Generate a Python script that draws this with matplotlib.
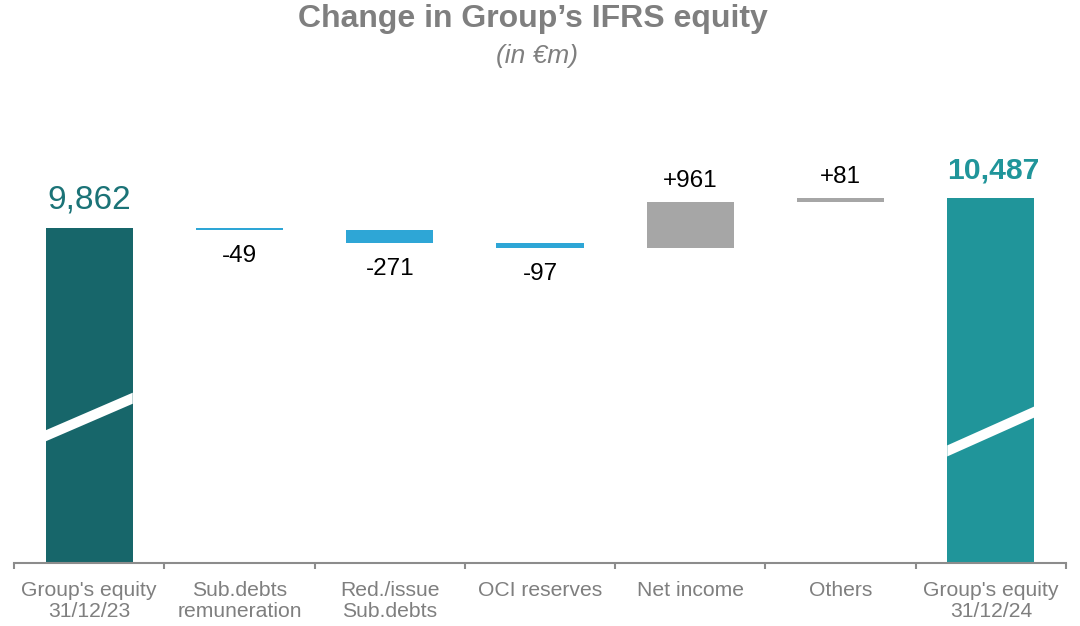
import numpy as np
import matplotlib
matplotlib.use("Agg")
import matplotlib.pyplot as plt
from matplotlib.patches import Polygon
import matplotlib.transforms as mtransforms

plt.rcParams['font.family'] = ['Liberation Sans', 'DejaVu Sans']

# data (in EUR m)
categories = ["Group's equity\n31/12/23", "Sub.debts\nremuneration", "Red./issue\nSub.debts",
              "OCI reserves", "Net income", "Others", "Group's equity\n31/12/24"]
start_equity = 9862
changes = [-49, -271, -97, 961, 81]
end_equity = 10487
change_labels = ["-49", "-271", "-97", "+961", "+81"]

DARK_TEAL = "#17666A"
TEAL = "#20959A"
BLUE = "#2EA6D6"
GREY = "#A6A6A6"
TXT_GREY = "#7F7F7F"
AX_BOTTOM = 2883  # broken axis: bars start here

fig = plt.figure(figsize=(10.8, 6.26), dpi=100)
ax = fig.add_axes([14 / 1080, 63 / 626, 1052 / 1080, 443 / 626])

x = np.arange(len(categories))
w = 0.58

# start / end totals
ax.bar(x[0], start_equity - AX_BOTTOM, bottom=AX_BOTTOM, width=w, color=DARK_TEAL)
ax.bar(x[-1], end_equity - AX_BOTTOM, bottom=AX_BOTTOM, width=w, color=TEAL)

# floating changes
level = start_equity
for i, (c, lab) in enumerate(zip(changes, change_labels)):
    xi = x[i + 1]
    col = BLUE if c < 0 else GREY
    ax.bar(xi, c, bottom=level, width=w, color=col)
    if c < 0:
        ax.annotate(lab, (xi, level + c), xytext=(0, -23), textcoords="offset points",
                    ha="center", va="baseline", fontsize=17.5, color="black")
    else:
        ax.annotate(lab, (xi, level + c), xytext=(0, 11), textcoords="offset points",
                    ha="center", va="baseline", fontsize=17.5, color="black")
    level += c

ax.annotate(f"{start_equity:,}", (x[0], start_equity), xytext=(0, 14), textcoords="offset points",
            ha="center", va="baseline", fontsize=24, color="#1B7377")
ax.annotate(f"{end_equity:,}", (x[-1], end_equity), xytext=(2, 14), textcoords="offset points",
            ha="center", va="baseline", fontsize=21.7, fontweight="bold", color=TEAL)

# white diagonal break marks on the truncated bars
trans = mtransforms.blended_transform_factory(ax.transData, ax.transAxes)
for xi, yl, yr in [(x[0], 0.287, 0.372), (x[-1], 0.253, 0.341)]:
    t = 0.0125
    pts = [(xi - w / 2, yl - t), (xi + w / 2, yr - t), (xi + w / 2, yr + t), (xi - w / 2, yl + t)]
    ax.add_patch(Polygon(pts, closed=True, facecolor="white", edgecolor="none",
                         transform=trans, zorder=3))

ax.set_xlim(-0.5, len(categories) - 0.5)
ax.set_ylim(AX_BOTTOM, AX_BOTTOM + 443 / 0.048)

for s in ["top", "right", "left"]:
    ax.spines[s].set_visible(False)
ax.spines["bottom"].set_color("#8C8C8C")
ax.spines["bottom"].set_linewidth(1.5)
ax.set_yticks([])
ax.set_xticks(x)
ax.set_xticklabels(categories, fontsize=15.2, color=TXT_GREY, linespacing=1.15)
ax.tick_params(axis="x", which="major", length=0, pad=13)
ax.set_xticks(np.arange(-0.5, len(categories), 1), minor=True)
ax.tick_params(axis="x", which="minor", length=4, width=1.5, color="#8C8C8C", direction="out")

fig.text(0.4935, 1 - 19 / 626, "Change in Group\u2019s IFRS equity", ha="center", va="center",
         fontsize=23, fontweight="bold", color=TXT_GREY)
fig.text(0.497, 1 - 56 / 626, "(in \u20acm)", ha="center", va="center",
         fontsize=19, style="italic", color=TXT_GREY)

fig.savefig("out.png", dpi=100)
